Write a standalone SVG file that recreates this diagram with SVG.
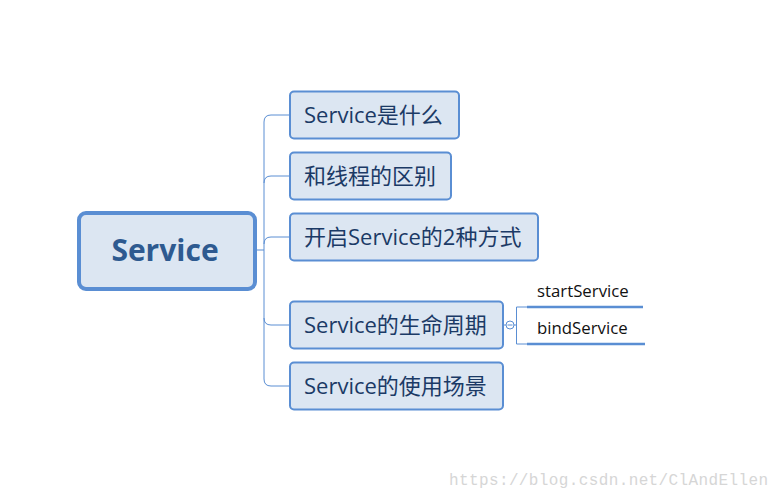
<svg xmlns="http://www.w3.org/2000/svg" width="780" height="499" viewBox="0 0 780 499">
<style>
.box{fill:#DCE6F2;stroke:#5A8ED3;stroke-width:2}
.t{font-family:"Open Sans","Noto Sans CJK SC",sans-serif;font-size:22px;fill:#1B3A66}
.c{fill:none;stroke:#5A8ED3;stroke-width:1}
.s{font-family:"Open Sans","Noto Sans CJK SC",sans-serif;font-size:16.8px;fill:#111}
.u{stroke:#5A8ED3;stroke-width:2.5}
</style>
<rect width="780" height="499" fill="#fff"/>
<g id="connectors">
<path class="c" d="M257,250 H264"/>
<path class="c" d="M290,115 H271 Q264,115 264,122 V379 Q264,386 271,386 H290"/>
<path class="c" d="M264,183 Q264,176 271,176 H290"/>
<path class="c" d="M264,244 Q264,237 271,237 H290"/>
<path class="c" d="M264,318 Q264,325 271,325 H290"/>
<path class="c" d="M503,325 H506"/>
<circle cx="510" cy="325" r="4" fill="#fff" stroke="#5A8ED3" stroke-width="1"/>
<path class="c" d="M507.5,325 H512.5"/>
<path class="c" d="M514,325 H516.5 M527,307 H516.5 V344 H527"/>
</g>
<g id="root">
<rect x="79" y="213" width="176" height="76" rx="7" fill="#DCE6F2" stroke="#5A8ED3" stroke-width="4"/>
<text x="165" y="261" text-anchor="middle" font-family="Open Sans, Noto Sans CJK SC, sans-serif" font-size="30" font-weight="bold" fill="#2E5A90">Service</text>
</g>
<g id="n1"><rect class="box" x="290" y="91.5" width="169" height="47" rx="4"/><text class="t" x="304" y="123">Service是什么</text></g>
<g id="n2"><rect class="box" x="290" y="152.5" width="161" height="47" rx="4"/><text class="t" x="304" y="184">和线程的区别</text></g>
<g id="n3"><rect class="box" x="290" y="213.5" width="248" height="47" rx="4"/><text class="t" x="304" y="245">开启Service的2种方式</text></g>
<g id="n4"><rect class="box" x="290" y="301.5" width="213" height="47" rx="4"/><text class="t" x="304" y="333">Service的生命周期</text></g>
<g id="n5"><rect class="box" x="290" y="362.5" width="213" height="47" rx="4"/><text class="t" x="304" y="394">Service的使用场景</text></g>
<g id="s1"><text class="s" x="537" y="297">startService</text><path class="u" d="M527,307 H643"/></g>
<g id="s2"><text class="s" x="537" y="334">bindService</text><path class="u" d="M527,344 H645"/></g>
<text x="449" y="485" font-family="Liberation Mono, monospace" font-size="16" fill="#D6D6D6" textLength="319">https://blog.csdn.net/ClAndEllen</text>
</svg>
